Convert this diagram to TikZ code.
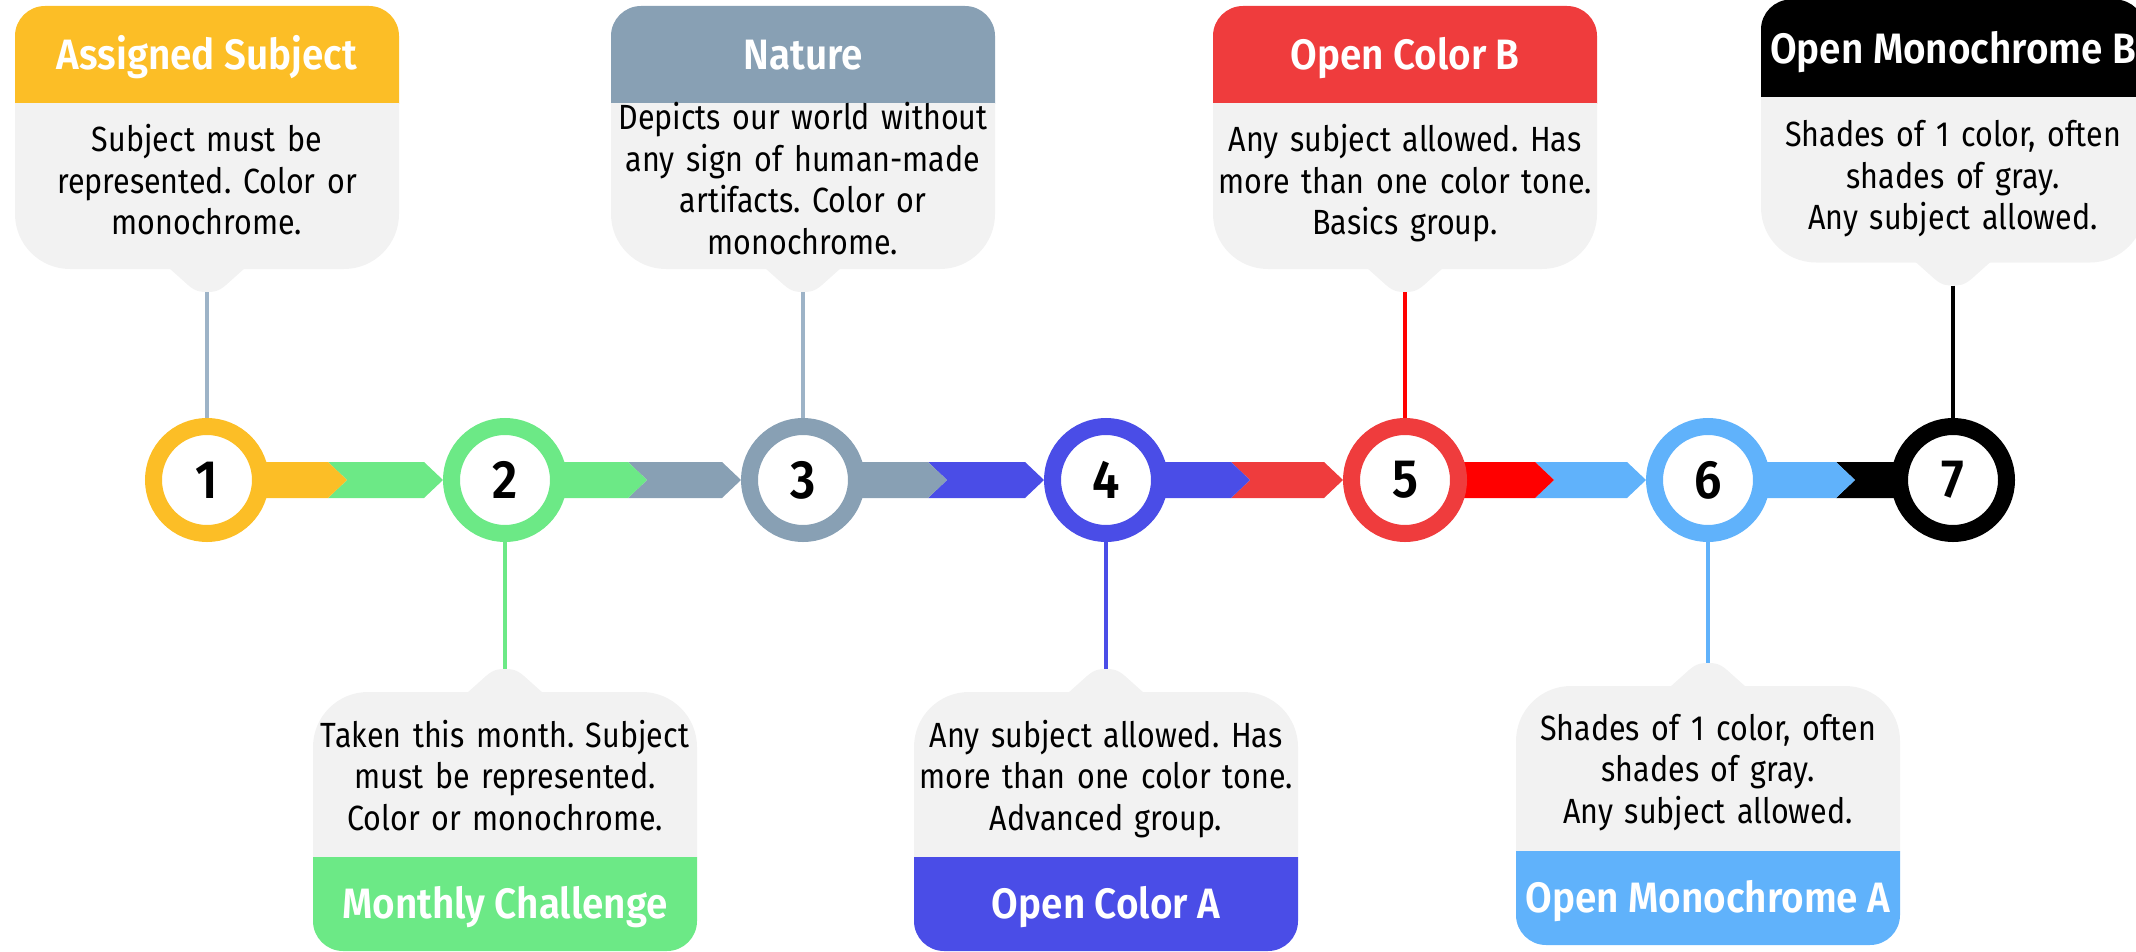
\documentclass[tikz,border=0pt]{standalone}
\usepackage{fontspec}
\setmainfont{Fira Sans}[FakeStretch=0.87]
\newfontfamily\semifont{Fira Sans SemiBold}[FakeStretch=0.91]
\frenchspacing
\definecolor{amber}{HTML}{FCBE26}
\definecolor{mint}{HTML}{6CE986}
\definecolor{slate}{HTML}{88A0B4}
\definecolor{indigo}{HTML}{4A4DE7}
\definecolor{tomato}{HTML}{EF3C3D}
\definecolor{pure}{HTML}{FF0000}
\definecolor{sky}{HTML}{60B2FB}
\definecolor{bodyc}{HTML}{F2F2F2}
\definecolor{steel}{HTML}{9DB3C7}
\tikzset{
  circ/.style={circle, draw=#1, line width=17pt, fill=white, minimum size=107pt, inner sep=0pt, font=\fontsize{54}{60}\selectfont\semifont},
  conn/.style={draw=#1, line width=4pt},
  title/.style={text=white, anchor=base, inner sep=0pt, font=\fontsize{42.5}{50}\selectfont\semifont},
  bodytext/.style={anchor=base, text width=600pt, align=center, inner sep=0pt, font=\fontsize{35}{41.5}\selectfont},
}
% #1 name, #2 cx, #3 dy, #4 color, #5 title, #6 first baseline, #7 body
\newcommand\TopBox[7]{%
\begin{scope}[shift={(#2,#3)}]
  \begin{scope}\clip (-192,-10) rectangle (192,104);
    \fill[#4, rounded corners=30pt] (-192,6) rectangle (192,160);\end{scope}
  \begin{scope}\clip (-192,104) rectangle (192,300);
    \fill[bodyc, rounded corners=55pt] (-192,40) rectangle (192,269);\end{scope}
  \fill[bodyc] (-38,268) -- (-19,285) .. controls (-11,292) and (-6,292) .. (0,292)
     .. controls (6,292) and (11,292) .. (19,285) -- (38,268) -- cycle;
  \coordinate (#1) at (0,292);
  \node[title] at (0,70) {#5};
  \node[bodytext] at (0,#6) {#7};
\end{scope}}
\newcommand\BotBox[7]{%
\begin{scope}[shift={(#2,#3)}]
  \begin{scope}\clip (-192,600) rectangle (192,857);
    \fill[bodyc, rounded corners=55pt] (-192,692) rectangle (192,951);\end{scope}
  \begin{scope}\clip (-192,857) rectangle (192,960);
    \fill[#4, rounded corners=30pt] (-192,800) rectangle (192,951);\end{scope}
  \fill[bodyc] (-38,693) -- (-19,676) .. controls (-11,669) and (-6,669) .. (0,669)
     .. controls (6,669) and (11,669) .. (19,676) -- (38,693) -- cycle;
  \coordinate (#1) at (0,669);
  \node[title] at (0,918) {#5};
  \node[bodytext] at (0,#6) {#7};
\end{scope}}
% #1 start x, #2 notch x, #3 tip x, #4 first colour, #5 second colour
\newcommand\Seg[5]{%
  \fill[#5] (#2,462) -- (#3-19,462) -- (#3,480) -- (#3-19,498) -- (#2,498) -- (#2+19,480) -- cycle;
  \fill[#4] (#1,462) -- (#2,462) -- (#2+19,480) -- (#2,498) -- (#1,498) -- cycle;}
\begin{document}
\begin{tikzpicture}[x=1pt,y=-1pt]
\useasboundingbox (0,0) rectangle (2136,952);
% bars
\Seg{207}{328}{443}{amber}{mint}
\Seg{505}{628}{741}{mint}{slate}
\Seg{803}{928}{1044}{slate}{indigo}
\Seg{1106}{1231}{1343}{indigo}{tomato}
\Seg{1405}{1535}{1646}{pure}{sky}
\fill[black] (1836,462) -- (1953,462) -- (1953,498) -- (1836,498) -- (1855,480) -- cycle;
\fill[sky] (1708,462) -- (1836,462) -- (1855,480) -- (1836,498) -- (1708,498) -- cycle;
% circles
\node[circ=amber] (c1) at (207,480) {1};
\node[circ=mint] (c2) at (505,480) {2};
\node[circ=slate] (c3) at (803,480) {3};
\node[circ=indigo] (c4) at (1106,480) {4};
\node[circ=tomato] (c5) at (1405,480) {5};
\node[circ=sky] (c6) at (1708,480) {6};
\node[circ=black] (c7) at (1953,480) {7};
% boxes
\TopBox{t1}{207}{0}{amber}{Assigned Subject}{151.7}{Subject must be\\represented. Color or\\monochrome.}
\TopBox{t3}{803}{0}{slate}{Nature}{130}{Depicts our world without\\any sign of human-made\\artifacts. Color or\\monochrome.}
\TopBox{t5}{1405}{0}{tomato}{Open Color B}{151.7}{Any subject allowed. Has\\more than one color tone.\\Basics group.}
\TopBox{t7}{1953}{-6.5}{black}{Open Monochrome B}{153.2}{Shades of 1 color, often\\shades of gray.\\Any subject allowed.}
\BotBox{b2}{505}{0}{mint}{Monthly Challenge}{747.3}{Taken this month. Subject\\must be represented.\\Color or monochrome.}
\BotBox{b4}{1106}{0}{indigo}{Open Color A}{747}{Any subject allowed. Has\\more than one color tone.\\Advanced group.}
\BotBox{b6}{1708}{-6}{sky}{Open Monochrome A}{746}{Shades of 1 color, often\\shades of gray.\\Any subject allowed.}
% connectors
\draw[conn=steel] (t1) -- (c1.north);
\draw[conn=steel] (t3) -- (c3.north);
\draw[conn=pure] (t5) -- (c5.north);
\draw[conn=black] (t7) -- (c7.north);
\draw[conn=mint] (c2.south) -- (b2);
\draw[conn=indigo] (c4.south) -- (b4);
\draw[conn=sky] (c6.south) -- (b6);
\end{tikzpicture}
\end{document}
